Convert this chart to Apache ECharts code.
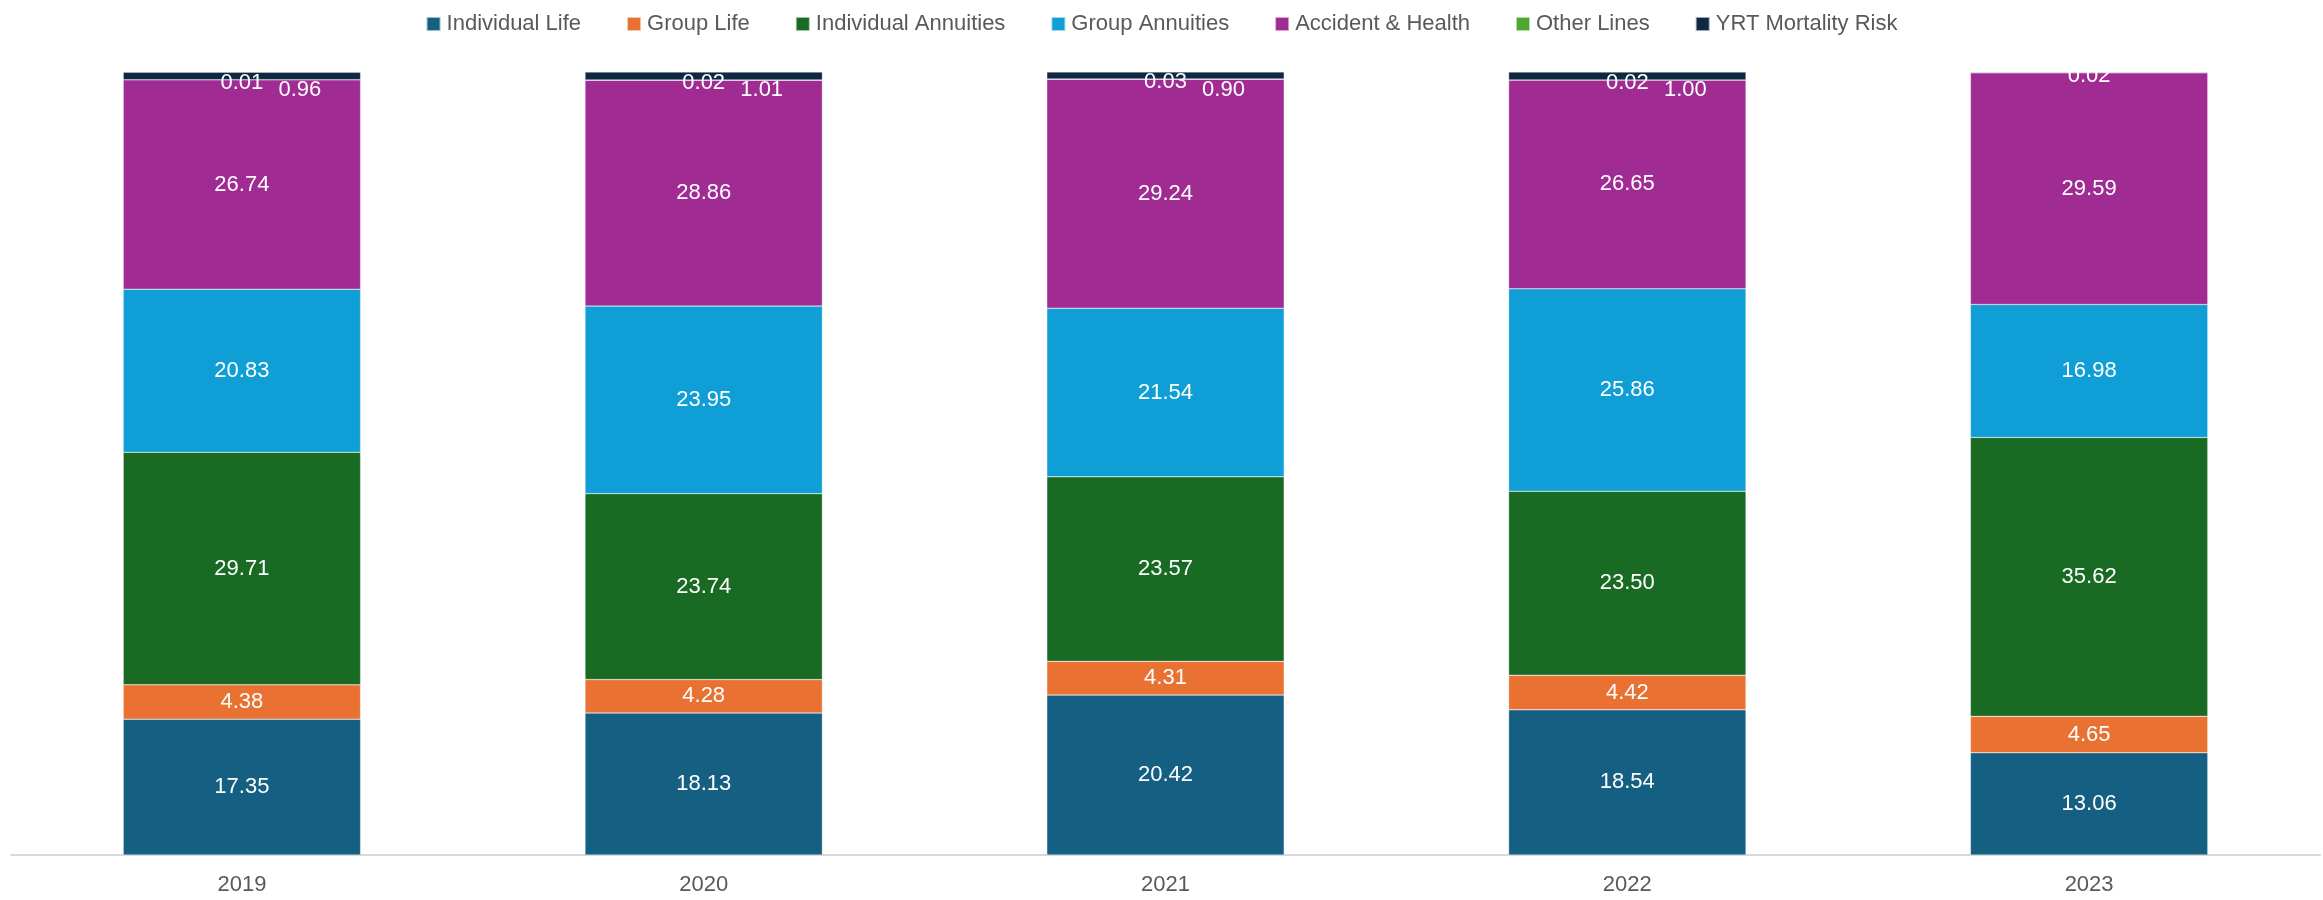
<!DOCTYPE html>
<html>
<head>
<meta charset="utf-8">
<script src="https://cdn.jsdelivr.net/npm/echarts@6/dist/echarts.min.js"></script>
<style>
  html, body { margin: 0; padding: 0; background: #ffffff; }
  #chart { width: 2323px; height: 900px; }
</style>
</head>
<body>
<div id="chart"></div>
<script>
const years = ['2019', '2020', '2021', '2022', '2023'];
const individualLife = [17.35, 18.13, 20.42, 18.54, 13.06];
const groupLife = [4.38, 4.28, 4.31, 4.42, 4.65];
const individualAnnuities = [29.71, 23.74, 23.57, 23.50, 35.62];
const groupAnnuities = [20.83, 23.95, 21.54, 25.86, 16.98];
const accidentHealth = [26.74, 28.86, 29.24, 26.65, 29.59];
const otherLines = [0.01, 0.02, 0.03, 0.02, 0.02];
const yrtMortality = [0.96, 1.01, 0.90, 1.00, 0.08];

const FONT = 'Liberation Sans, Arial, sans-serif';

const seriesDefs = [
  { name: 'Individual Life', data: individualLife, color: '#156082' },
  { name: 'Group Life', data: groupLife, color: '#E97132' },
  { name: 'Individual Annuities', data: individualAnnuities, color: '#196B24' },
  { name: 'Group Annuities', data: groupAnnuities, color: '#0F9ED5' },
  { name: 'Accident & Health', data: accidentHealth, color: '#A02B93' },
  { name: 'Other Lines', data: otherLines, color: '#4EA72E', dx: 0, dy: 3 },
  { name: 'YRT Mortality Risk', data: yrtMortality, color: '#0E2841', dx: 58, dy: 14, hideLast: true }
];

const series = seriesDefs.map(d => ({
  name: d.name,
  type: 'bar',
  stack: 'total',
  barCategoryGap: '48.6%',
  itemStyle: { color: d.color, borderColor: 'rgba(255,255,255,0.6)', borderWidth: 0.5 },
  label: {
    show: true,
    position: 'inside',
    color: '#ffffff',
    fontFamily: FONT,
    fontSize: 22,
    formatter: p => (d.hideLast && p.dataIndex === years.length - 1) ? '' : p.value.toFixed(2)
  },
  labelLayout: { hideOverlap: false, dx: d.dx || 0, dy: d.dy || 0 },
  data: d.data
}));

const chart = echarts.init(document.getElementById('chart'), null, { renderer: 'canvas' });
chart.setOption({
  animation: false,
  backgroundColor: '#ffffff',
  legend: {
    top: 8,
    left: 'center',
    itemWidth: 14,
    itemHeight: 14,
    itemGap: 45,
    icon: 'rect',
    textStyle: { color: '#595959', fontFamily: FONT, fontSize: 22, padding: [0, 0, 0, 1] },
    data: seriesDefs.map(d => d.name)
  },
  grid: { left: 11, right: 3, top: 72, bottom: 45, containLabel: false },
  xAxis: {
    type: 'category',
    data: years,
    axisLine: { lineStyle: { color: '#d9d9d9', width: 2 } },
    axisTick: { show: false },
    axisLabel: { color: '#595959', fontFamily: FONT, fontSize: 22, margin: 19 }
  },
  yAxis: {
    type: 'value',
    min: 0,
    max: 100,
    show: false,
    splitLine: { show: false }
  },
  series: series
});
</script>
</body>
</html>
